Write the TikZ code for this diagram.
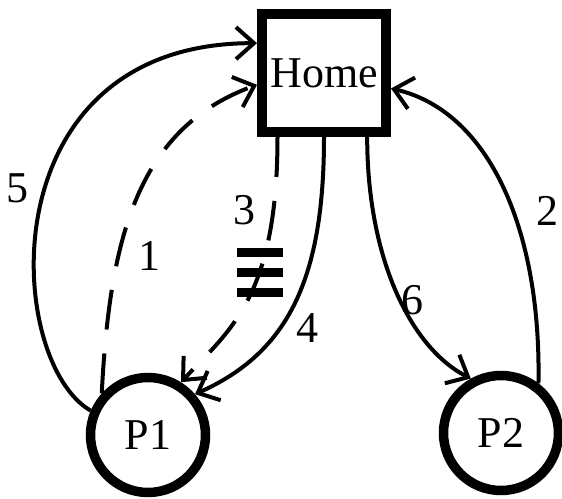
\documentclass[tikz,border=0pt]{standalone}
\usepackage{fontspec}
\setmainfont{Liberation Serif}
\usetikzlibrary{arrows.meta}

\begin{document}
\begin{tikzpicture}[x=1pt,y=1pt,
  big/.style={font=\fontsize{44}{50}\selectfont},
  hub/.style={draw,rectangle,line width=10pt,minimum width=124pt,
              minimum height=118pt,inner sep=0pt,big},
  state/.style={draw,circle,line width=9.5pt,minimum size=115pt,inner sep=0pt,big},
  lbl/.style={inner sep=0pt,big},
  edge/.style={line width=4pt,-{Straight Barb[length=18pt,width=32pt]}},
  dsh/.style={dash pattern=on 40pt off 24pt}]
  \useasboundingbox (0,0) rectangle (562,498);
  % places
  \node[hub] (home) at (324,425) {Home};
  \node[state] (P1) at (148,63) {P1};
  \node[state] (P2) at (501,65) {P2};
  % moves
  \draw[edge] (P1.157) .. controls +(150:100) and +(180:270) .. (home.156);
  \draw[edge,dsh] (P1.138) .. controls +(87:150) and +(200:130) .. (home.190);
  \draw[edge,dsh] (home.234) .. controls +(270:160) and +(47:72) .. (P1.58);
  \draw[edge] (home.south) .. controls +(270:142) and +(24:102) .. (P1.41);
  \draw[edge] (home.304) .. controls +(270:122) and +(153:67) .. (P2.119);
  \draw[edge] (P2.53) .. controls +(89:155) and +(347:100) .. (home.347);
  % labels
  \node[lbl] (l5) at (17,310) {5};
  \node[lbl] (l1) at (149,242) {1};
  \node[lbl] (l3) at (244,288) {3};
  \node[lbl] (l4) at (307,170) {4};
  \node[lbl] (l6) at (412,198) {6};
  \node[lbl] (l2) at (547,287) {2};
  \node[inner sep=0pt] (bars) at (260,225.5) {\vbox{\hrule width 46pt height 9pt
    \vskip 11pt\hrule width 46pt height 9pt\vskip 11pt\hrule width 46pt height 9pt}};
\end{tikzpicture}
\end{document}
